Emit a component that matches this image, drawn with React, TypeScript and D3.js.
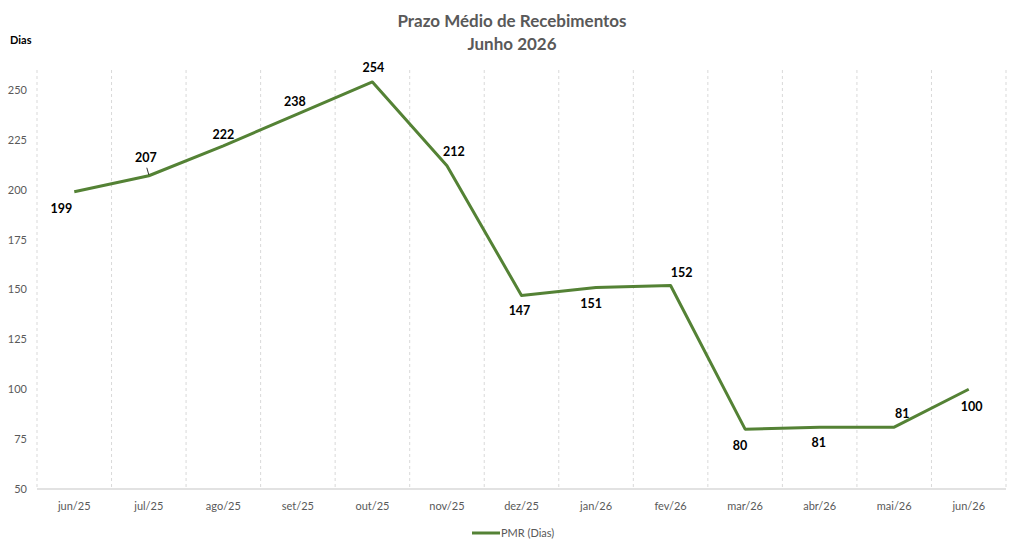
import React from "react";
import * as d3 from "d3";

const categories = ["jun/25","jul/25","ago/25","set/25","out/25","nov/25","dez/25","jan/26","fev/26","mar/26","abr/26","mai/26","jun/26"];
const pmrValues = [199, 207, 222, 238, 254, 212, 147, 151, 152, 80, 81, 81, 100];
const yTicks = [50, 75, 100, 125, 150, 175, 200, 225, 250];
// label offsets relative to point (dx, dy)
const labelOffsets: [number, number][] = [
  [-13, 17], [-3, -18], [0, -11], [-3, -12], [1, -14], [7, -14], [-2, 16], [-5, 17], [11, -12], [-5, 17], [-1, 16], [8, -13], [3, 18],
];

const W = 1024, H = 553;
const M = { left: 37, right: 1006, top: 70, bottom: 489 };
const FONT = "Lato, 'Open Sans', sans-serif";
const GREEN = "#548235";

export default function App() {
  const x = d3.scaleBand<string>().domain(categories).range([M.left, M.right]).paddingInner(0).paddingOuter(0);
  const y = d3.scaleLinear().domain([50, 260]).range([M.bottom, M.top]);
  const cx = (c: string) => (x(c) as number) + x.bandwidth() / 2;
  const line = d3.line<number>().x((_, i) => cx(categories[i])).y((d) => y(d));
  const boundaries = d3.range(categories.length + 1).map((i) => M.left + i * x.bandwidth());

  return (
    <svg width={W} height={H} style={{ position: "absolute", left: 0, top: 0, background: "#fff" }} fontFamily={FONT}>
      <text x={512} y={27} textAnchor="middle" fontSize={17} fontWeight="bold" fill="#595959">Prazo Médio de Recebimentos</text>
      <text x={512} y={50} textAnchor="middle" fontSize={17} fontWeight="bold" fill="#595959">Junho 2026</text>
      <text x={10} y={44} fontSize={11} fontWeight="bold" fill="#000">Dias</text>

      {boundaries.map((bx, i) => (
        <line key={i} x1={bx} x2={bx} y1={M.top} y2={M.bottom} stroke="#d9d9d9" strokeWidth={1} strokeDasharray="3,3" />
      ))}
      <line x1={M.left} x2={M.right} y1={M.bottom} y2={M.bottom} stroke="#d9d9d9" strokeWidth={1.5} />

      {yTicks.map((t) => (
        <text key={t} x={27} y={y(t) + 4} textAnchor="end" fontSize={11} fill="#595959">{t}</text>
      ))}
      {categories.map((c) => (
        <text key={c} x={cx(c)} y={510} textAnchor="middle" fontSize={11} fill="#595959">{c}</text>
      ))}

      <path d={line(pmrValues) || ""} fill="none" stroke={GREEN} strokeWidth={3} strokeLinejoin="round" />

      <line x1={cx(categories[1])} y1={y(pmrValues[1]) - 1} x2={cx(categories[1]) - 2} y2={y(pmrValues[1]) - 8} stroke="#000" strokeWidth={0.8} />

      {pmrValues.map((v, i) => (
        <text key={i} x={cx(categories[i]) + labelOffsets[i][0]} y={y(v) + labelOffsets[i][1] + 4} textAnchor="middle" fontSize={12.5} fontWeight="bold" fill="#000">{v}</text>
      ))}

      <line x1={472} x2={500} y1={533} y2={533} stroke={GREEN} strokeWidth={3} />
      <text x={501} y={537} fontSize={11} fill="#595959">PMR (Dias)</text>
    </svg>
  );
}
